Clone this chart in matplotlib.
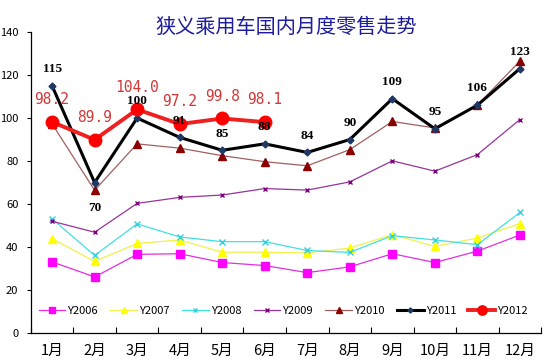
import numpy as np
import matplotlib
matplotlib.use('Agg')
import matplotlib.pyplot as plt

plt.rcParams['font.family'] = ['Noto Sans CJK SC', 'DejaVu Sans']

months = ['1月', '2月', '3月', '4月', '5月', '6月', '7月', '8月', '9月', '10月', '11月', '12月']

y2006 = [33.1, 26.1, 36.6, 36.9, 32.8, 31.4, 28.1, 30.8, 36.9, 32.8, 38.1, 45.6]
y2007 = [43.9, 33.3, 41.7, 43.3, 37.6, 37.6, 37.3, 39.5, 45.8, 40.3, 44.2, 50.9]
y2008 = [53.1, 36.1, 50.8, 44.7, 42.5, 42.5, 38.4, 37.5, 45.3, 43.3, 41.1, 56.1]
y2009 = [52.0, 46.9, 60.3, 63.1, 64.2, 67.2, 66.5, 70.3, 80.1, 75.3, 83.0, 99.3]
y2010 = [97.3, 66.4, 88.0, 86.0, 82.5, 79.7, 77.8, 85.3, 98.4, 95.4, 106.0, 126.5]
y2011 = [115, 70, 100, 91, 85, 88, 84, 90, 109, 95, 106, 123]
y2012 = [98.2, 89.9, 104.0, 97.2, 99.8, 98.1]

x = np.arange(len(months))

fig = plt.figure(figsize=(5.5, 3.64), dpi=100)
ax = fig.add_axes([0.056, 0.085, 0.928, 0.827])

ax.plot(x, y2006, color='#e030e0', lw=0.9, marker='s', ms=5.5,
        mfc='#ff00ff', mec='#ff00ff', label='Y2006', zorder=3)
ax.plot(x, y2007, color='#f0f050', lw=0.9, marker='^', ms=6,
        mfc='#ffff00', mec='#ffff00', label='Y2007', zorder=3)
ax.plot(x, y2008, color='#40e0e0', lw=0.9, marker='x', ms=4,
        mfc='#30d0e0', mec='#30d0e0', label='Y2008', zorder=3)
ax.plot(x, y2009, color='#993399', lw=0.9, marker='x', ms=3.5,
        mec='#800080', label='Y2009', zorder=3)
ax.plot(x, y2010, color='#a06060', lw=0.9, marker='^', ms=5.5,
        mfc='#8b0000', mec='#8b0000', label='Y2010', zorder=4)
ax.plot(x, y2011, color='#000000', lw=2.2, marker='D', ms=3.5,
        mfc='#1f3864', mec='#1f3864', label='Y2011', zorder=5)
ax.plot(x[:len(y2012)], y2012, color='#ee2020', lw=2.8, marker='o', ms=9,
        mfc='#ff0000', mec='#ff0000', label='Y2012', zorder=6)

# data labels
for i, v in enumerate(y2011):
    if v == 70:
        ax.annotate(str(v), (x[i], v), xytext=(0, -18), textcoords='offset points',
                    ha='center', va='center', fontsize=9.5, fontweight='bold',
                    family='Liberation Serif', color='black', zorder=7)
    else:
        ax.annotate(str(v), (x[i], v), xytext=(0, 12), textcoords='offset points',
                    ha='center', va='center', fontsize=9.5, fontweight='bold',
                    family='Liberation Serif', color='black', zorder=7)

for i, v in enumerate(y2012):
    ax.annotate('%.1f' % v, (x[i], v), xytext=(0, 16), textcoords='offset points',
                ha='center', va='center', fontsize=10.5,
                family='DejaVu Sans Mono', color='#d03838', zorder=7)

ax.set_xlim(-0.5, 11.5)
ax.set_ylim(0, 140)
ax.set_yticks(np.arange(0, 141, 20))
ax.set_xticks(x)
ax.set_xticklabels(months, fontsize=10.5)
ax.set_xticks(np.arange(-0.5, 12, 1), minor=True)
ax.tick_params(axis='x', which='major', length=0, pad=8)
ax.tick_params(axis='x', which='minor', direction='in', length=4, width=0.8)
ax.tick_params(axis='y', direction='out', length=3, labelsize=8, pad=6)

for s in ['top', 'right']:
    ax.spines[s].set_visible(False)
for s in ['left', 'bottom']:
    ax.spines[s].set_linewidth(0.9)

ax.legend(loc='center left', bbox_to_anchor=(0.0, 0.073), ncol=7, frameon=False,
          fontsize=8, handlelength=2.4, columnspacing=1.1, handletextpad=0.2,
          borderaxespad=0.3, markerscale=0.75)

fig.text(0.52, 0.925, '狭义乘用车国内月度零售走势', ha='center', va='center',
         fontsize=14.5, color='#1c1c9c')

fig.savefig('out.png', dpi=100)
